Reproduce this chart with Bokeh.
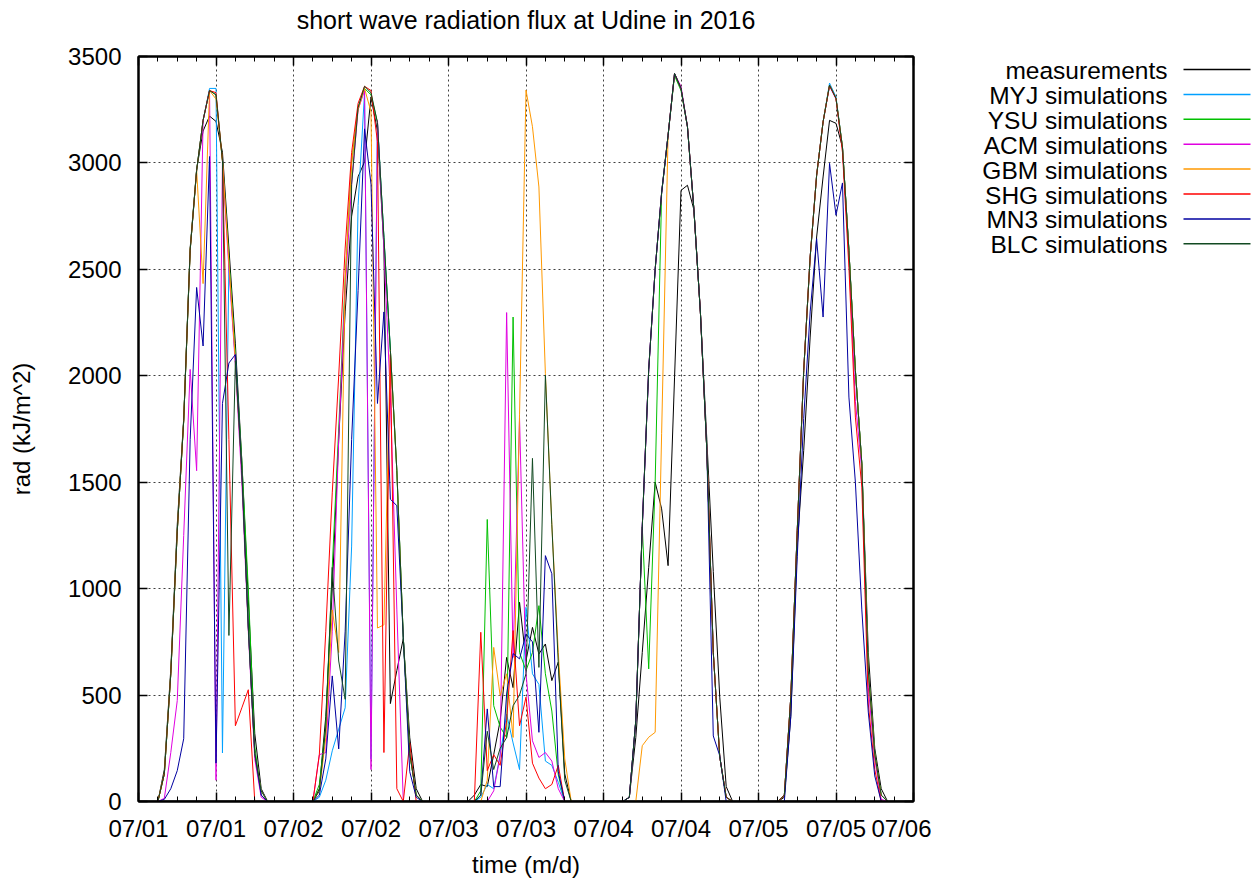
from bokeh.plotting import figure
from bokeh.models import Range1d, FixedTicker, LinearAxis, CustomJSTickFormatter, Span
from bokeh.layouts import row
from bokeh.embed import file_html
from bokeh.resources import INLINE
from bokeh.core.properties import value

# ---------------- data (hourly, starting 07/01 00:00) ----------------
series_names = ["measurements", "MYJ simulations", "YSU simulations", "ACM simulations",
                "GBM simulations", "SHG simulations", "MN3 simulations", "BLC simulations"]
series_colors = ["#000000", "#00a0ff", "#00c000", "#e000e0",
                 "#ff9900", "#ff0000", "#0000a0", "#124a22"]

measurements = (
    [0, 0, 0, 0, 150, 620, 1300, 1800, 2600, 2970, 3150, 3220, 3195, 3050, 2600, 2150, 1600, 950, 320, 60, 0, 0, 0, 0]
    + [0, 0, 0, 0, 60, 400, 1000, 1700, 2300, 2750, 2935, 3005, 3310, 3150, 2600, 460, 615, 765, 300, 60, 0, 0, 0, 0]
    + [0, 0, 0, 0, 30, 80, 70, 220, 380, 677, 535, 936, 662, 818, 693, 740, 568, 655, 130, 0, 0, 0, 0, 0]
    + [0, 0, 0, 0, 20, 300, 700, 1100, 1500, 1375, 1108, 1990, 2871, 2895, 2780, 2300, 1700, 1080, 490, 70, 0, 0, 0, 0]
    + [0, 0, 0, 0, 20, 400, 1200, 1650, 2182, 2652, 2934, 3200, 3186, 3075, 2589, 2025, 1586, 700, 250, 60, 0, 0, 0, 0]
)
myj = (
    [0, 0, 0, 0, 130, 600, 1270, 1790, 2590, 2965, 3200, 3350, 3350, 228, 2530, 2070, 1555, 820, 225, 50, 0, 0, 0, 0]
    + [0, 0, 0, 0, 20, 100, 238, 340, 440, 1200, 2800, 3330, 200, 3190, 2650, 2120, 1555, 770, 225, 30, 0, 0, 0, 0]
    + [0, 0, 0, 0, 0, 20, 80, 60, 220, 410, 275, 150, 912, 600, 550, 190, 170, 90, 0, 0, 0, 0, 0, 0]
    + [0, 0, 0, 0, 20, 380, 1290, 2030, 2500, 2860, 3130, 3420, 3350, 3170, 2780, 2300, 1650, 700, 210, 20, 0, 0, 0, 0]
    + [0, 0, 0, 0, 30, 490, 1273, 2025, 2558, 2942, 3193, 3375, 3310, 3075, 2589, 2025, 1586, 615, 223, 30, 0, 0, 0, 0]
)
ysu = (
    [0, 0, 0, 0, 130, 600, 1270, 1790, 2590, 2965, 3200, 3340, 3320, 3010, 2550, 2100, 1600, 1000, 260, 30, 0, 0, 0, 0]
    + [0, 0, 0, 0, 80, 350, 1100, 1750, 2450, 3000, 3260, 3350, 3320, 3190, 2650, 2120, 1555, 770, 225, 30, 0, 0, 0, 0]
    + [0, 0, 0, 0, 0, 50, 1325, 450, 350, 300, 2276, 700, 615, 700, 920, 600, 425, 125, 0, 0, 0, 0, 0, 0]
    + [0, 0, 0, 0, 20, 380, 1290, 623, 1500, 2860, 3130, 3410, 3340, 3170, 2780, 2300, 1650, 700, 210, 20, 0, 0, 0, 0]
    + [0, 0, 0, 0, 30, 490, 1273, 2025, 2558, 2942, 3193, 3365, 3303, 3075, 2589, 2025, 1586, 615, 223, 30, 0, 0, 0, 0]
)
acm = (
    [0, 0, 0, 0, 15, 230, 474, 1250, 2030, 1554, 3200, 3340, 100, 3000, 2500, 2050, 1500, 800, 200, 20, 0, 0, 0, 0]
    + [0, 0, 0, 0, 220, 230, 800, 1700, 2400, 2900, 3250, 3340, 150, 3200, 2600, 1900, 900, 0, 0, 0, 0, 0, 0, 0]
    + [0, 0, 0, 0, 0, 0, 0, 50, 215, 2297, 677, 1800, 600, 285, 207, 230, 190, 60, 0, 0, 0, 0, 0, 0]
    + [0, 0, 0, 0, 20, 380, 1290, 2030, 2500, 2860, 3130, 3420, 3360, 3170, 2780, 2300, 1650, 700, 210, 20, 0, 0, 0, 0]
    + [0, 0, 0, 0, 30, 490, 1273, 2025, 2558, 2942, 3193, 3360, 3300, 3070, 2560, 1880, 1555, 537, 200, 10, 0, 0, 0, 0]
)
gbm = (
    [0, 0, 0, 0, 130, 600, 1270, 1790, 2590, 2965, 2433, 3340, 3300, 3010, 2530, 2070, 1555, 820, 225, 50, 0, 0, 0, 0]
    + [0, 0, 0, 0, 50, 300, 900, 700, 2450, 3000, 3250, 3350, 3240, 815, 830, 2120, 1555, 770, 225, 30, 0, 0, 0, 0]
    + [0, 0, 0, 0, 0, 0, 100, 724, 497, 600, 301, 1820, 3342, 3170, 2887, 2010, 1300, 700, 200, 0, 0, 0, 0, 0]
    + [0, 0, 0, 0, 0, 0, 262, 302, 325, 1730, 3130, 3420, 3350, 3170, 2780, 2300, 1650, 700, 210, 20, 0, 0, 0, 0]
    + [0, 0, 0, 0, 30, 490, 1273, 2025, 2558, 2942, 3193, 3365, 3303, 3075, 2589, 2025, 1586, 615, 223, 30, 0, 0, 0, 0]
)
shg = (
    [0, 0, 0, 0, 130, 600, 1270, 1790, 2590, 2965, 3200, 3340, 3330, 3010, 1700, 356, 440, 525, 0, 0, 0, 0, 0, 0]
    + [0, 0, 0, 0, 220, 800, 1450, 2000, 2600, 3050, 3280, 3360, 3340, 3100, 230, 2100, 60, 0, 275, 0, 0, 0, 0, 0]
    + [0, 0, 0, 0, 0, 795, 145, 220, 170, 380, 803, 356, 490, 180, 110, 60, 80, 170, 0, 0, 0, 0, 0, 0]
    + [0, 0, 0, 0, 20, 380, 1290, 2030, 2500, 2860, 3130, 3420, 3350, 3170, 2780, 2300, 1650, 700, 210, 20, 0, 0, 0, 0]
    + [0, 0, 0, 0, 30, 490, 1273, 2025, 2558, 2942, 3193, 3365, 3303, 3050, 2510, 1806, 1477, 458, 150, 0, 0, 0, 0, 0]
)
mn3 = (
    [0, 0, 0, 0, 10, 60, 145, 295, 1700, 2415, 2140, 3030, 180, 1870, 2060, 2100, 1555, 820, 225, 30, 0, 0, 0, 0]
    + [0, 0, 0, 0, 30, 200, 590, 247, 800, 1700, 2400, 3160, 2900, 1870, 2300, 1420, 1390, 770, 140, 20, 0, 0, 0, 0]
    + [0, 0, 0, 0, 0, 30, 435, 70, 70, 505, 695, 670, 787, 750, 325, 1155, 1070, 140, 0, 0, 0, 0, 0, 0]
    + [0, 0, 0, 0, 20, 380, 1290, 2030, 2500, 2860, 3130, 3420, 3350, 3170, 2780, 2300, 1650, 308, 215, 0, 0, 0, 0, 0]
    + [0, 0, 0, 0, 0, 400, 1150, 1800, 2300, 2644, 2276, 2998, 2754, 2906, 1900, 1500, 900, 420, 120, 0, 0, 0, 0, 0]
)
blc = (
    [0, 0, 0, 0, 130, 600, 1270, 1790, 2590, 2965, 3200, 3340, 3320, 3010, 780, 2070, 1555, 820, 225, 50, 0, 0, 0, 0]
    + [0, 0, 0, 0, 50, 350, 1100, 660, 480, 2900, 3260, 3360, 3330, 3190, 2650, 2120, 1555, 770, 225, 30, 0, 0, 0, 0]
    + [0, 0, 0, 0, 0, 30, 330, 150, 250, 300, 450, 500, 600, 1612, 630, 2003, 1300, 650, 100, 0, 0, 0, 0, 0]
    + [0, 0, 0, 0, 20, 380, 1290, 2030, 2500, 2860, 3130, 3420, 3350, 3170, 2780, 2300, 1650, 700, 210, 20, 0, 0, 0, 0]
    + [0, 0, 0, 0, 30, 490, 1273, 2025, 2558, 2942, 3193, 3365, 3303, 3075, 2589, 2025, 1586, 615, 223, 30, 0, 0, 0, 0]
)
hours = list(range(len(measurements)))   # hours since 07/01 00:00

x_ticks = [0, 12, 24, 36, 48, 60, 72, 84, 96, 108, 120]
x_tick_labels = ["07/01", "07/01", "07/02", "07/02", "07/03", "07/03",
                 "07/04", "07/04", "07/05", "07/05", "07/06"]
y_ticks = [0, 500, 1000, 1500, 2000, 2500, 3000, 3500]
title_text = "short wave radiation flux at Udine in 2016"

all_series = [measurements, myj, ysu, acm, gbm, shg, mn3, blc]

# ---------------- layout constants ----------------
FONT = "Liberation Sans"
FS = "24px"
LEFT, TOP, FW, FH, BOTTOM, RIGHT = 138, 56, 775, 745, 78, 18
P_WIDTH = LEFT + FW + RIGHT
Q_WIDTH = 320

p = figure(frame_width=FW, frame_height=FH,
           x_range=Range1d(0, 120), y_range=Range1d(0, 3500),
           output_backend="svg", toolbar_location=None,
           min_border_left=LEFT, min_border_right=RIGHT, min_border_top=TOP, min_border_bottom=BOTTOM)

p.outline_line_color = "black"
p.outline_line_width = 2

minor_x = list(range(0, 121, 3))

xa = p.xaxis[0]
xa.ticker = FixedTicker(ticks=x_ticks, minor_ticks=minor_x)
xa.major_label_overrides = {t: lab for t, lab in zip(x_ticks, x_tick_labels)}
xa.axis_label = "time (m/d)"
ya = p.yaxis[0]
ya.ticker = FixedTicker(ticks=y_ticks)
ya.axis_label = "rad (kJ/m^2)"

blank = CustomJSTickFormatter(code="return ''")
top = LinearAxis(ticker=FixedTicker(ticks=x_ticks, minor_ticks=minor_x), formatter=blank,
                 major_label_standoff=0, axis_label=title_text)
right = LinearAxis(ticker=FixedTicker(ticks=y_ticks), formatter=blank,
                   minor_tick_line_color=None, major_label_standoff=0)
p.add_layout(top, "above")
p.add_layout(right, "right")

for ax in (xa, ya, top, right):
    ax.major_tick_in = 9
    ax.major_tick_out = 0
    ax.minor_tick_in = 5
    ax.minor_tick_out = 0
    ax.major_tick_line_width = 1.5
    ax.axis_line_width = 2
    ax.major_label_text_font = FONT
    ax.major_label_text_font_size = FS
    ax.major_label_text_color = "black"
    ax.axis_label_text_font = FONT
    ax.axis_label_text_font_size = FS
    ax.axis_label_text_font_style = "normal"
    ax.axis_label_text_color = "black"
ya.minor_tick_line_color = None
right.minor_tick_line_color = None
xa.major_label_standoff = 13
xa.axis_label_standoff = 6
ya.major_label_standoff = 17
ya.axis_label_standoff = 30
top.axis_label_text_font_size = "25px"
top.axis_label_standoff = 23

for g in (p.xgrid[0], p.ygrid[0]):
    g.grid_line_color = "black"
    g.grid_line_alpha = 0.75
    g.grid_line_dash = "2 3"
    g.grid_line_width = 1
p.xgrid[0].ticker = FixedTicker(ticks=x_ticks)
p.ygrid[0].ticker = FixedTicker(ticks=y_ticks)

for ser, col in zip(all_series, series_colors):
    p.line(hours, ser, line_color=col, line_width=1)

p.add_layout(Span(location=0, dimension="width", line_color="black", line_width=2, level="overlay"))

# ---------------- legend (gnuplot style: text, then sample) ----------------
# legend panel uses page-pixel coordinates for its own ranges
q = figure(frame_width=Q_WIDTH, frame_height=FH,
           x_range=Range1d(P_WIDTH, P_WIDTH + Q_WIDTH), y_range=Range1d(TOP + FH, TOP),
           output_backend="svg", toolbar_location=None,
           min_border_left=0, min_border_right=0, min_border_top=TOP, min_border_bottom=BOTTOM,
           x_axis_type=None, y_axis_type=None)
q.outline_line_color = None
q.grid.visible = False
for i, (name, col) in enumerate(zip(series_names, series_colors)):
    yy = 70 + 24.9 * i
    q.text(x=[1167], y=[yy], text=[name], text_align="right", text_baseline="middle",
           text_font=value(FONT), text_font_size="24.5px", text_color="black")
    q.line(x=[1183, 1250], y=[yy - 1, yy - 1], line_color=col, line_width=1.5)

layout = row(p, q)
open("out.html", "w").write(file_html(layout, INLINE))
